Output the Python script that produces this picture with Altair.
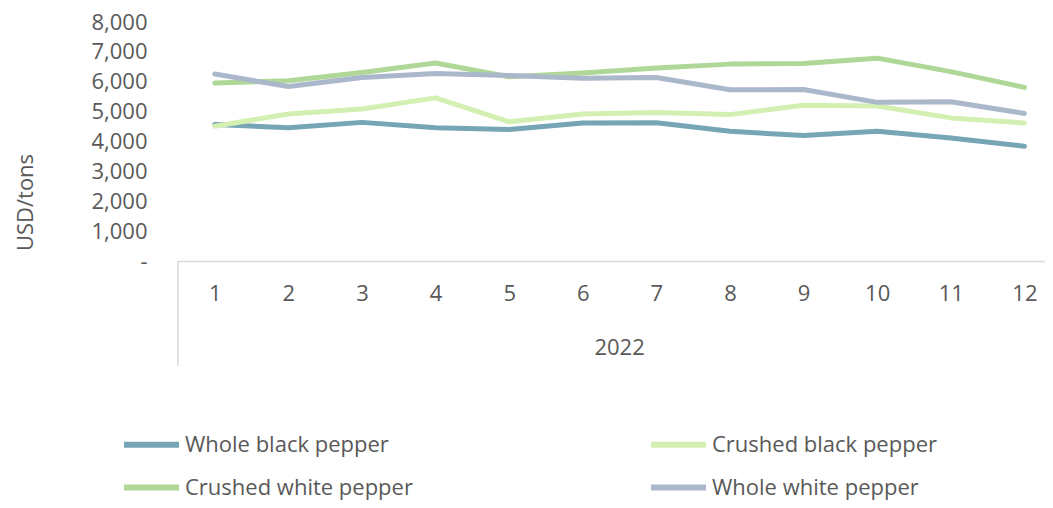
import altair as alt
import pandas as pd

months = list(range(1, 13))
series_names = ["Whole black pepper", "Crushed black pepper", "Crushed white pepper", "Whole white pepper"]
whole_black = [4570, 4460, 4640, 4460, 4400, 4620, 4630, 4340, 4200, 4340, 4120, 3840]
crushed_black = [4510, 4920, 5090, 5460, 4660, 4920, 4970, 4900, 5210, 5190, 4790, 4620]
crushed_white = [5960, 6030, 6310, 6630, 6170, 6290, 6460, 6590, 6610, 6790, 6340, 5810]
whole_white = [6260, 5840, 6140, 6280, 6210, 6120, 6140, 5730, 5740, 5310, 5330, 4940]
colors = ["#76A6B6", "#D4EFB2", "#AFD798", "#ABB7CB"]
year_label = "2022"

rows = []
for name, vals in zip(series_names, [whole_black, crushed_black, crushed_white, whole_white]):
    for m, v in zip(months, vals):
        rows.append({"month": m, "series": name, "value": v})
df = pd.DataFrame(rows)

FONT = "Open Sans"
TXT = "#595959"
FS = 22
LFS = 22
W, H = 867, 239

lines = alt.Chart(df).mark_line(strokeWidth=5, strokeCap="round", strokeJoin="round").encode(
    x=alt.X("month:Q",
            scale=alt.Scale(domain=[0.5, 12.28], nice=False, zero=False),
            axis=alt.Axis(values=months, format="d", title=None, labelPadding=22,
                          grid=False, ticks=False, domainColor="#D9D9D9", domainWidth=1.5)),
    y=alt.Y("value:Q",
            scale=alt.Scale(domain=[0, 8000], nice=False),
            axis=alt.Axis(values=[0, 1000, 2000, 3000, 4000, 5000, 6000, 7000, 8000],
                          labelExpr="datum.value == 0 ? '-' : format(datum.value, ',')",
                          title="USD/tons", titleX=-153, titleY=180, titleAngle=270,
                          titleAlign="center", titleBaseline="middle", labelPadding=31,
                          grid=False, ticks=False, domain=False,
                          labelOverlap=False, labelBound=False, labelFlush=False)),
    color=alt.Color("series:N",
                    scale=alt.Scale(domain=series_names, range=colors),
                    legend=alt.Legend(title=None, orient="none", legendX=-57, legendY=392,
                                      direction="horizontal", columns=2, symbolType="stroke",
                                      symbolSize=3025, symbolStrokeWidth=6,
                                      labelFont=FONT, labelFontSize=LFS, labelColor=TXT,
                                      labelOffset=3, columnPadding=226, rowPadding=0,
                                      labelLimit=400)),
)

# separator line below the category axis, at the left edge of the plot
sep = alt.Chart(pd.DataFrame({"x": [0.5]})).mark_rule(color="#D9D9D9", strokeWidth=1.5).encode(
    x=alt.value(0),
    y=alt.value(H),
    y2=alt.value(H + 105),
)

year = alt.Chart(pd.DataFrame({"x": [6.5], "t": [year_label]})).mark_text(
    font=FONT, fontSize=FS, color=TXT, baseline="middle").encode(
    x=alt.X("x:Q"),
    y=alt.value(H + 87),
    text="t:N",
)

chart = alt.layer(lines, sep, year).properties(
    width=W, height=H,
    background="white",
    autosize=alt.AutoSizeParams(type="none"),
    padding={"left": 170, "top": 14, "right": 0, "bottom": 239},
).configure_view(
    stroke=None
).configure_axis(
    grid=False, ticks=False, labelFont=FONT, labelFontSize=FS, labelColor=TXT,
    titleFont=FONT, titleFontSize=FS, titleColor=TXT, titleFontWeight="normal",
    labelOverlap=False, labelBound=False, labelFlush=False,
)

chart.save("out.html", embed_options={"renderer": "svg", "actions": False})
